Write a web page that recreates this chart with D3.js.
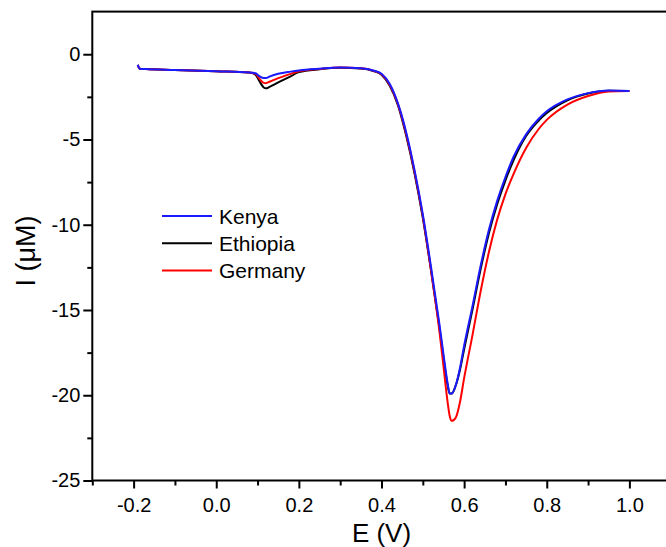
<!DOCTYPE html>
<html>
<head>
<meta charset="utf-8">
<script src="https://cdn.jsdelivr.net/npm/d3@7"></script>
<style>
  html, body { margin: 0; padding: 0; background: #fff; }
  svg { display: block; }
  text { font-family: Arial, "Liberation Sans", sans-serif; fill: #000; }
</style>
</head>
<body>
<svg id="chart" width="666" height="547"></svg>
<script>
// ---------- data ----------
const potentials = [-0.19, -0.185, -0.17, -0.1, 0.0, 0.08, 0.095, 0.105, 0.115, 0.12, 0.13, 0.15, 0.18, 0.2, 0.25, 0.3, 0.35, 0.38, 0.40, 0.42, 0.44, 0.46, 0.48, 0.50, 0.52, 0.54, 0.55, 0.56, 0.565, 0.57, 0.58, 0.59, 0.60, 0.62, 0.64, 0.66, 0.68, 0.70, 0.72, 0.75, 0.78, 0.80, 0.85, 0.90, 0.95, 1.0];

const kenya    = [-0.62, -0.85, -0.87, -0.92, -1.0, -1.07, -1.12, -1.3, -1.4, -1.4, -1.3, -1.15, -1.02, -0.95, -0.85, -0.78, -0.82, -0.95, -1.15, -1.75, -2.9, -4.6, -6.8, -9.4, -12.5, -15.8, -17.6, -19.3, -19.9, -19.9, -19.4, -18.4, -17.1, -14.8, -12.4, -10.3, -8.6, -7.2, -6.0, -4.7, -3.8, -3.35, -2.65, -2.28, -2.12, -2.15];

const ethiopia = [-0.62, -0.85, -0.87, -0.92, -1.0, -1.07, -1.2, -1.6, -1.95, -2.0, -1.9, -1.65, -1.3, -1.05, -0.88, -0.8, -0.84, -0.98, -1.2, -1.85, -3.0, -4.8, -7.0, -9.6, -12.7, -16.0, -17.8, -19.4, -19.9, -19.9, -19.4, -18.5, -17.3, -15.0, -12.6, -10.5, -8.8, -7.4, -6.2, -4.8, -3.9, -3.45, -2.7, -2.3, -2.14, -2.15];

const germany  = [-0.62, -0.85, -0.87, -0.92, -1.0, -1.07, -1.15, -1.45, -1.68, -1.7, -1.6, -1.4, -1.15, -1.0, -0.86, -0.78, -0.82, -0.96, -1.18, -1.8, -2.95, -4.7, -6.9, -9.5, -12.7, -16.2, -18.3, -20.4, -21.2, -21.5, -21.3, -20.4, -19.0, -16.5, -13.9, -11.6, -9.7, -8.2, -7.0, -5.5, -4.4, -3.85, -2.95, -2.45, -2.18, -2.15];

const seriesNames  = ["Kenya", "Ethiopia", "Germany"];
const seriesValues = [kenya, ethiopia, germany];
const seriesColors = ["#1a1aff", "#000000", "#ff0000"];

const xMajorTicks = [-0.2, 0.0, 0.2, 0.4, 0.6, 0.8, 1.0];
const xMinorTicks = [-0.3, -0.1, 0.1, 0.3, 0.5, 0.7, 0.9, 1.1];
const yMajorTicks = [-25, -20, -15, -10, -5, 0];
const yMinorTicks = [-22.5, -17.5, -12.5, -7.5, -2.5];

const xTitle = "E (V)";
const yTitle = "I (\u03BCM)";

// ---------- layout ----------
const svg = d3.select("#chart");
const mLeft = 92.3, mRight = 670.7, mTop = 11.6, mBottom = 480.5;

const x = d3.scaleLinear().domain([-0.3, 1.1]).range([mLeft, mRight]);
const y = d3.scaleLinear().domain([-25, 2.5]).range([mBottom, mTop]);

const line = d3.line()
  .x(d => x(d[0]))
  .y(d => y(d[1]))
  .curve(d3.curveMonotoneX);

const plot = svg.append("g");
const drawOrder = [1, 2, 0];
drawOrder.forEach(i => {
  const pts = potentials.map((p, k) => [p, seriesValues[i][k]]);
  plot.append("path")
    .datum(pts)
    .attr("fill", "none")
    .attr("stroke", seriesColors[i])
    .attr("stroke-width", 2)
    .attr("stroke-linejoin", "round")
    .attr("d", line);
});

// axes
const fmt = d => d.toFixed(1);
const xAxisMajor = d3.axisBottom(x).tickValues(xMajorTicks).tickFormat(fmt).tickSize(8).tickPadding(9);
const xAxisMinor = d3.axisBottom(x).tickValues(xMinorTicks).tickFormat("").tickSize(5);
const yAxisMajor = d3.axisLeft(y).tickValues(yMajorTicks).tickFormat(d => String(d)).tickSize(9).tickPadding(3);
const yAxisMinor = d3.axisLeft(y).tickValues(yMinorTicks).tickFormat("").tickSize(5);

function styleAxis(g) {
  g.select(".domain").remove();
  g.selectAll(".tick line").attr("stroke", "#000").attr("stroke-width", 2);
  g.selectAll(".tick text").attr("font-size", 20).attr("font-family", "Arial, 'Liberation Sans', sans-serif").attr("fill", "#000");
}

svg.append("g").attr("transform", `translate(0,${mBottom})`).call(xAxisMajor).call(styleAxis);
svg.append("g").attr("transform", `translate(0,${mBottom})`).call(xAxisMinor).call(styleAxis);
svg.append("g").attr("transform", `translate(${mLeft},0)`).call(yAxisMajor).call(styleAxis);
svg.append("g").attr("transform", `translate(${mLeft},0)`).call(yAxisMinor).call(styleAxis);

// frame
svg.append("rect")
  .attr("x", mLeft).attr("y", mTop)
  .attr("width", mRight - mLeft).attr("height", mBottom - mTop)
  .attr("fill", "none").attr("stroke", "#000").attr("stroke-width", 2);

// titles
svg.append("text")
  .attr("x", (mLeft + mRight) / 2).attr("y", 542)
  .attr("text-anchor", "middle").attr("font-size", 26)
  .text(xTitle);

svg.append("text")
  .attr("transform", `translate(35,251) rotate(-90)`)
  .attr("text-anchor", "middle").attr("font-size", 27)
  .text(yTitle);

// legend
const legend = svg.append("g");
const legendY0 = 216, legendStep = 27.3;
seriesNames.forEach((name, i) => {
  const ly = legendY0 + i * legendStep;
  legend.append("line")
    .attr("x1", 162).attr("x2", 212).attr("y1", ly).attr("y2", ly)
    .attr("stroke", seriesColors[i]).attr("stroke-width", 2);
  legend.append("text")
    .attr("x", 219).attr("y", ly).attr("dy", "0.36em")
    .attr("font-size", 21)
    .text(name);
});
</script>
</body>
</html>
